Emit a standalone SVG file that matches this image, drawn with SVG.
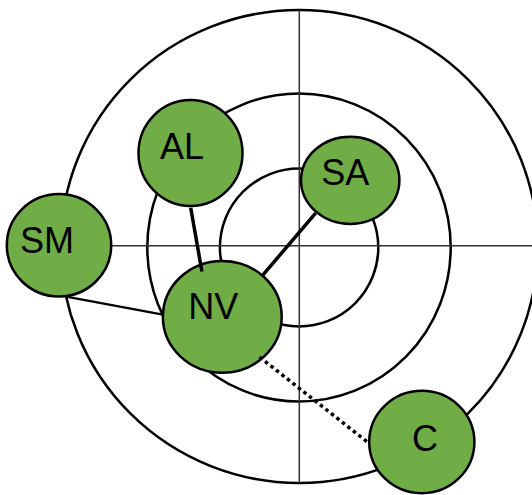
<svg xmlns="http://www.w3.org/2000/svg" width="532" height="495" viewBox="0 0 532 495">
<style>
.ring{fill:none;stroke:#000;stroke-width:2.5}
.axis{stroke:#333;stroke-width:1.5}
.node{fill:#70AD47;stroke:#000;stroke-width:2.5}
.lbl{font-family:"Liberation Sans","Open Sans",Arial,sans-serif;font-size:36px;fill:#000;text-anchor:middle}
.c{stroke:#000;fill:none}
</style>
<rect width="532" height="495" fill="#fff"/>
<g id="rings">
<ellipse class="ring" cx="299.2" cy="246.5" rx="238.5" ry="236.5"/>
<ellipse class="ring" cx="299" cy="247.5" rx="151.7" ry="154"/>
<ellipse class="ring" cx="299.1" cy="247.5" rx="79.2" ry="78.9"/>
</g>
<g id="axes">
<line class="axis" x1="299.3" y1="10" x2="299.3" y2="483"/>
<line class="axis" x1="60" y1="245.7" x2="532" y2="245.7"/>
</g>
<g id="node-AL"><ellipse class="node" cx="190.5" cy="153" rx="52" ry="53"/><text class="lbl" x="182" y="159">AL</text></g>
<g id="node-SA"><ellipse class="node" cx="350.2" cy="180.3" rx="49.2" ry="43.6"/><text class="lbl" x="345.3" y="185">SA</text></g>
<g id="node-SM"><ellipse class="node" cx="59" cy="245.3" rx="52.2" ry="51.2"/><text class="lbl" x="47" y="253">SM</text></g>
<g id="node-NV"><ellipse class="node" cx="222.3" cy="316.8" rx="59.4" ry="55.9"/><text class="lbl" x="213.2" y="319">NV</text></g>
<g id="node-C"><ellipse class="node" cx="421.8" cy="442" rx="52.6" ry="51.2"/><text class="lbl" x="425" y="451.3">C</text></g>
<g id="connectors">
<line class="c" x1="190.7" y1="207.7" x2="201.9" y2="271.5" stroke-width="3.5"/>
<line class="c" x1="315.6" y1="213.1" x2="263" y2="274.9" stroke-width="3.5"/>
<line class="c" x1="66.2" y1="296.6" x2="162.9" y2="314.6" stroke-width="2.2"/>
<line class="c" x1="259.6" y1="357" x2="369.2" y2="443.5" stroke-width="3.5" stroke-dasharray="3.5 3.5"/>
</g>
</svg>
